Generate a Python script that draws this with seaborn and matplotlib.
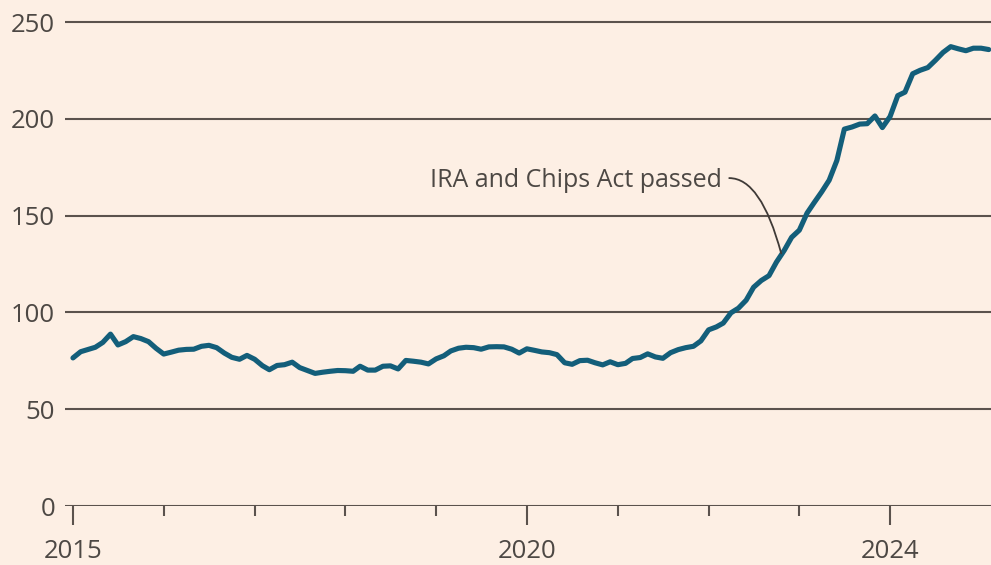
import matplotlib
matplotlib.use("Agg")
import matplotlib.pyplot as plt
import pandas as pd
import seaborn as sns

# ---- data (monthly index values) ----
start_month = "2015-01-01"
values = [
    76.5, 79.7, 80.8, 82.0, 84.5, 88.8, 83.2, 84.9, 87.5, 86.5, 84.9, 81.5,   # 2015
    78.5, 79.5, 80.5, 80.9, 81.0, 82.5, 83.0, 81.8, 79.0, 76.8, 75.8, 77.8,   # 2016
    75.8, 72.5, 70.4, 72.6, 73.0, 74.3, 71.5, 70.0, 68.5, 69.1, 69.6, 70.0,   # 2017
    69.9, 69.6, 72.2, 70.2, 70.2, 72.2, 72.4, 70.8, 75.2, 74.8, 74.3, 73.4,   # 2018
    76.0, 77.6, 80.1, 81.5, 82.0, 81.8, 81.0, 82.2, 82.3, 82.2, 81.0, 79.0,   # 2019
    81.2, 80.4, 79.6, 79.2, 78.2, 74.0, 73.2, 75.1, 75.3, 74.0, 72.9, 74.5,   # 2020
    73.0, 73.7, 76.2, 76.7, 78.6, 77.0, 76.3, 79.2, 80.8, 81.8, 82.5, 85.3,   # 2021
    91.0, 92.5, 94.5, 99.8, 102.2, 106.3, 113.0, 116.5, 119.0, 126.0, 132.0, 138.8,  # 2022
    142.5, 151.3, 156.6, 162.3, 168.3, 178.5, 194.7, 195.8, 197.3, 197.5, 201.5, 195.5,  # 2023
    201.2, 212.0, 213.8, 223.3, 225.1, 226.5, 230.2, 234.3, 237.3, 236.2, 235.2, 236.5,  # 2024
    236.5, 235.8,                                                              # 2025
]
y_ticks = [0, 50, 100, 150, 200, 250]
year_ticks = list(range(2015, 2025))
labelled_years = [2015, 2020, 2024]
annotation_text = "IRA and Chips Act passed"
annotation_point = ("2022-10-20", 130.5)

dates = pd.date_range(start_month, periods=len(values), freq="MS")
df = pd.DataFrame({"date": dates, "value": values})

# ---- style ----
bg = "#FDEFE4"
line_col = "#135E7A"
grid_col = "#5B524D"
text_col = "#4D4844"

sns.set_theme(style="white")
plt.rcParams["font.family"] = ["Open Sans", "DejaVu Sans"]

fig = plt.figure(figsize=(9.91, 5.65), dpi=100)
fig.patch.set_facecolor(bg)
ax = fig.add_axes([65 / 991, 59 / 565, 926 / 991, 506 / 565])
ax.set_facecolor(bg)

sns.lineplot(data=df, x="date", y="value", ax=ax, color=line_col,
             linewidth=3.7, solid_joinstyle="round", solid_capstyle="round",
             zorder=3)

# y axis / grid
ax.set_ylim(0, 261.4)
ax.set_yticks(y_ticks)
ax.set_yticklabels([str(v) for v in y_ticks])
ax.grid(True, axis="y", color=grid_col, linewidth=1.5, zorder=1)
ax.grid(False, axis="x")
ax.set_axisbelow(True)

# x axis
ax.set_xlim(pd.Timestamp("2014-11-30"), pd.Timestamp("2025-02-10"))
major = [pd.Timestamp(f"{y}-01-01") for y in labelled_years]
minor = [pd.Timestamp(f"{y}-01-01") for y in year_ticks if y not in labelled_years]
ax.set_xticks(major)
ax.set_xticklabels([str(y) for y in labelled_years])
ax.set_xticks(minor, minor=True)

ax.tick_params(axis="y", length=0, pad=7, labelsize=18.5, labelcolor=text_col)
ax.tick_params(axis="x", which="major", bottom=True, direction="out", length=14,
               width=1.5, color=grid_col, pad=10, labelsize=18.5,
               labelcolor=text_col)
ax.tick_params(axis="x", which="minor", bottom=True, direction="out", length=7,
               width=1.5, color=grid_col)

for s in ax.spines.values():
    s.set_visible(False)
ax.set_xlabel("")
ax.set_ylabel("")

# annotation
ax.text(pd.Timestamp("2022-02-25"), 168, annotation_text, ha="right", va="center",
        fontsize=18, color=text_col, zorder=5)
ax.annotate("", xy=(pd.Timestamp(annotation_point[0]), annotation_point[1]),
            xytext=(pd.Timestamp("2022-03-25"), 169.4),
            arrowprops=dict(arrowstyle="-", color="#3F3A37", lw=1.3,
                            shrinkA=0, shrinkB=0,
                            connectionstyle="angle3,angleA=0,angleB=105"),
            zorder=5)

fig.savefig("out.png", dpi=100, facecolor=bg)
